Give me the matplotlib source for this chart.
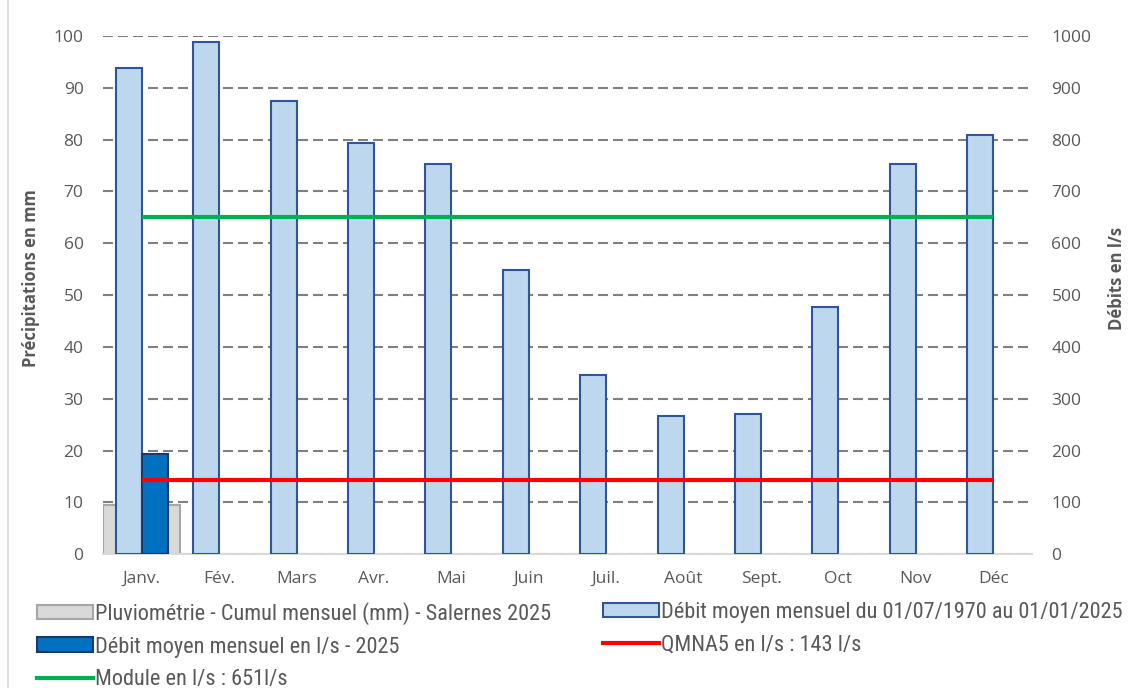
import matplotlib
matplotlib.use("Agg")
import matplotlib.pyplot as plt
import numpy as np
from matplotlib.patches import Patch
from matplotlib.lines import Line2D
from matplotlib.font_manager import FontProperties, fontManager

months = ["Janv.", "Fév.", "Mars", "Avr.", "Mai", "Juin", "Juil.", "Août", "Sept.", "Oct", "Nov", "Déc"]
pluvio_2025 = [9.6, None, None, None, None, None, None, None, None, None, None, None]
debit_hist = [938, 988, 874, 794, 754, 548, 346, 267, 270, 477, 754, 809]
debit_2025 = [193, None, None, None, None, None, None, None, None, None, None, None]
qmna5 = 143
module = 651

lab_pluvio = "Pluviométrie - Cumul mensuel (mm) - Salernes 2025"
lab_hist = "Débit moyen mensuel du 01/07/1970 au 01/01/2025"
lab_2025 = "Débit moyen mensuel en l/s - 2025"
lab_qmna = "QMNA5 en l/s : 143 l/s"
lab_module = "Module en l/s : 651l/s"

names = {f.name for f in fontManager.ttflist}
cond = [n for n in ["Liberation Sans Narrow", "DejaVu Sans Condensed", "Roboto Condensed", "Open Sans Condensed"] if n in names]

tick_font = ["Open Sans", "DejaVu Sans"]
grey_txt = "#595959"

fig = plt.figure(figsize=(11.31, 6.88), dpi=100)
ax = fig.add_axes([103/1131, 1-554.3/688, (1032-103)/1131, (554.3-36)/688])
ax2 = ax.twinx()

x = np.arange(len(months))
pv = [np.nan if v is None else v for v in pluvio_2025]
ax.bar(x, pv, width=1.0, color="#D9D9D9", edgecolor="#A6A6A6", linewidth=1.5, zorder=2)
ax.set_ylim(0, 100)
ax.set_yticks(np.arange(0, 101, 10))
ax.set_xlim(-0.5, 11.5)
ax.set_xticks(x)
ax.set_xticklabels(months)
ax.grid(axis="y", color="#808080", linewidth=1.5, linestyle=(0, (4.8, 2.4)), zorder=0)
ax.set_axisbelow(True)

w = 0.336
ax2.bar(x - w/2, debit_hist, width=w, color="#BDD7EE", edgecolor="#2F5597", linewidth=1.5, zorder=3)
d25 = [np.nan if v is None else v for v in debit_2025]
ax2.bar(x + w/2, d25, width=w, color="#0070C0", edgecolor="#1F3864", linewidth=1.5, zorder=3)
ax2.plot([x[0], x[-1]], [module, module], color="#00B050", linewidth=3, solid_capstyle="butt", zorder=4)
ax2.plot([x[0], x[-1]], [qmna5, qmna5], color="#FF0000", linewidth=3, solid_capstyle="butt", zorder=4)
ax2.set_ylim(0, 1000)
ax2.set_yticks(np.arange(0, 1001, 100))

for a in (ax, ax2):
    for s in a.spines.values():
        s.set_visible(False)
    a.tick_params(length=0, labelcolor=grey_txt, labelsize=12.5)
    for t in a.get_xticklabels() + a.get_yticklabels():
        t.set_family(tick_font)
ax.spines["bottom"].set_visible(True)
ax.spines["bottom"].set_color("#D9D9D9")
ax.spines["bottom"].set_linewidth(1.5)
ax.tick_params(axis="y", pad=14)
ax.tick_params(axis="x", pad=12)
ax2.tick_params(axis="y", pad=14)

ax.set_ylabel("Précipitations en mm", family=tick_font, fontsize=12, fontweight="bold", color=grey_txt)
ax2.set_ylabel("Débits en l/s", family=tick_font, fontsize=12, fontweight="bold", color=grey_txt)
ax.yaxis.set_label_coords(-63/929, (554.3-278)/518.3)
ax2.yaxis.set_label_coords(1 + 76/929, (554.3-278)/518.3)

fig.add_artist(Line2D([8/1131, 8/1131], [0, 1], color="#D9D9D9", linewidth=1.2))

h_pluvio = Patch(facecolor="#D9D9D9", edgecolor="#A6A6A6", linewidth=1.5)
h_hist = Patch(facecolor="#BDD7EE", edgecolor="#2F5597", linewidth=1.5)
h_2025 = Patch(facecolor="#0070C0", edgecolor="#1F3864", linewidth=1.5)
h_qmna = Line2D([], [], color="#FF0000", linewidth=3)
h_mod = Line2D([], [], color="#00B050", linewidth=3)

if cond:
    prop = FontProperties(family=cond[0], size=16)
else:
    prop = FontProperties(family="DejaVu Sans", size=11.5)
fs = prop.get_size_in_points()
fs_px = fs * 100 / 72
leg_kw = dict(frameon=False, handlelength=56/fs_px, handleheight=14/fs_px, handletextpad=2/fs_px,
              labelspacing=0.52, borderaxespad=0, borderpad=0,
              prop=prop, labelcolor=grey_txt)
l1 = fig.legend([h_pluvio, h_2025, h_mod], [lab_pluvio, lab_2025, lab_module],
                loc="upper left", bbox_to_anchor=(37/1131, 1-602/688), **leg_kw)
l2 = fig.legend([h_hist, h_qmna], [lab_hist, lab_qmna],
                loc="upper left", bbox_to_anchor=(603/1131, 1-602/688), **leg_kw)

fig.savefig("out.png", dpi=100)
